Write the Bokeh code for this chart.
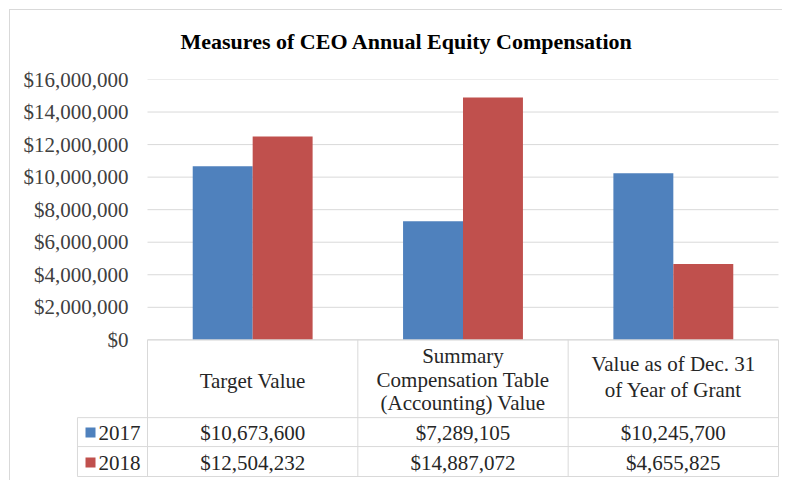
from bokeh.plotting import figure
from bokeh.models import Range1d, LinearAxis, FixedTicker, NumeralTickFormatter
from bokeh.core.properties import value
from bokeh.embed import file_html
from bokeh.resources import INLINE

# ---------------- data ----------------
title_text = "Measures of CEO Annual Equity Compensation"
categories = [
    "Target Value",
    "Summary\nCompensation Table\n(Accounting) Value",
    "Value as of Dec. 31\nof Year of Grant",
]
series_names = ["2017", "2018"]
values_2017 = [10673600, 7289105, 10245700]
values_2018 = [12504232, 14887072, 4655825]
y_ticks = [0, 2000000, 4000000, 6000000, 8000000, 10000000, 12000000, 14000000, 16000000]
colors = ["#4F81BD", "#C0504D"]

# ---------------- styling / layout ----------------
FONT = "Liberation Serif"
GRID = "#d9d9d9"
TXT = "#262626"

border_css = {
    "background-image": "linear-gradient(#d9d9d9, #d9d9d9), linear-gradient(#d9d9d9, #d9d9d9)",
    "background-size": "1px 100%, 100% 1px",
    "background-position": "9px 9px, 9px 9px",
    "background-repeat": "no-repeat",
}

p = figure(
    width=782, height=480,
    x_range=Range1d(-0.3376, 3.0048),
    y_range=Range1d(-8.4598e6, 16e6),
    x_axis_type=None, y_axis_type=None,
    output_backend="svg", toolbar_location=None,
    min_border_left=76, min_border_right=3, min_border_top=78, min_border_bottom=3,
    outline_line_color=None, background_fill_color="white", border_fill_color=None,
    styles=border_css,
)
p.extra_y_ranges = {"tbl": Range1d(0, 399)}

p.title.text = title_text
p.title.align = "left"
p.title.offset = 104
p.title.standoff = 52
p.title.text_font = FONT
p.title.text_font_size = "22px"
p.title.text_font_style = "bold"
p.title.text_color = "black"

yaxis = LinearAxis(
    ticker=FixedTicker(ticks=y_ticks),
    formatter=NumeralTickFormatter(format="$0,0"),
    axis_line_color=None, major_tick_line_color=None, minor_tick_line_color=None,
    major_tick_in=0, major_tick_out=0, major_label_standoff=-52,
    major_label_text_font=FONT, major_label_text_font_size="21px",
    major_label_text_color="#404040",
)
p.add_layout(yaxis, "left")

n = len(categories)
centers = [i + 0.5 for i in range(n)]
bar_w = 0.285

# gridlines
p.segment(x0=[0] * len(y_ticks), x1=[n] * len(y_ticks), y0=y_ticks, y1=y_ticks,
          line_color=GRID, line_width=1)

# bars
p.vbar(x=[c - bar_w / 2 for c in centers], width=bar_w, top=values_2017, bottom=0,
       fill_color=colors[0], line_color=None)
p.vbar(x=[c + bar_w / 2 for c in centers], width=bar_w, top=values_2018, bottom=0,
       fill_color=colors[1], line_color=None)

# data table grid (table coordinates)
LEG_X = -0.333
HDR_TOP, ROW1_TOP, ROW2_TOP, BOT = 138, 60, 31, 1
p.segment(x0=[0, LEG_X, LEG_X, LEG_X], x1=[n, n, n, n],
          y0=[HDR_TOP, ROW1_TOP, ROW2_TOP, BOT], y1=[HDR_TOP, ROW1_TOP, ROW2_TOP, BOT],
          line_color=GRID, line_width=1, y_range_name="tbl")
p.segment(x0=[0, 1, 2, 3, LEG_X], x1=[0, 1, 2, 3, LEG_X],
          y0=[BOT] * 5, y1=[HDR_TOP, HDR_TOP, HDR_TOP, HDR_TOP, ROW1_TOP],
          line_color=GRID, line_width=1, y_range_name="tbl")

# header text
hdr_y = [97, 98, 100.5]
hdr_lh = [0.98, 0.98, 1.1]
for i in range(n):
    p.text(x=[centers[i]], y=[hdr_y[i]], text=[categories[i]], y_range_name="tbl",
           text_align="center", text_baseline="middle", text_font=value(FONT),
           text_font_size="21px", text_color=TXT, text_line_height=hdr_lh[i])

# value rows
row_y = [45, 15]
for vals, ry in zip([values_2017, values_2018], row_y):
    p.text(x=centers, y=[ry] * n, text=[f"${v:,}" for v in vals], y_range_name="tbl",
           text_align="center", text_baseline="middle", text_font=value(FONT),
           text_font_size="21px", text_color=TXT)

# legend keys
p.scatter(x=[-0.271] * 2, y=row_y, marker="square", size=10, fill_color=colors,
          line_color=None, y_range_name="tbl")
p.text(x=[-0.233] * 2, y=row_y, text=series_names, y_range_name="tbl",
       text_align="left", text_baseline="middle", text_font=value(FONT),
       text_font_size="21px", text_color=TXT)

open("out.html", "w").write(file_html(p, INLINE))
